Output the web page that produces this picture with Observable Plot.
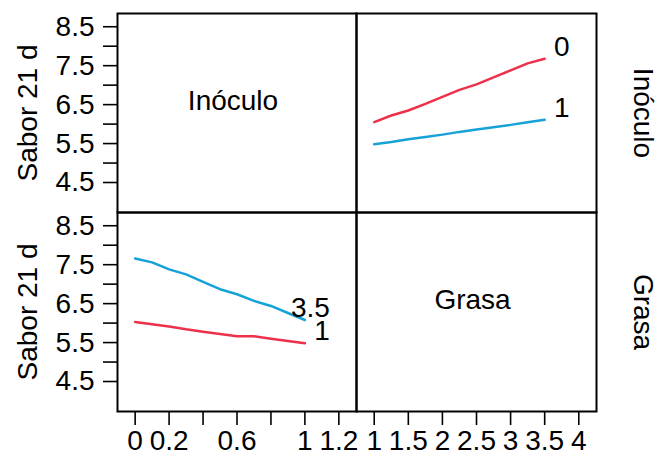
<!DOCTYPE html>
<html>
<head>
<meta charset="utf-8">
<script src="https://cdn.jsdelivr.net/npm/d3@7"></script>
<script src="https://cdn.jsdelivr.net/npm/@observablehq/plot@0.6"></script>
<style>
  html, body { margin: 0; padding: 0; background: #ffffff; }
  #chart { position: relative; width: 659px; height: 459px; }
  #chart svg { position: absolute; left: 0; top: 0; }
</style>
</head>
<body>
<div id="chart"></div>
<script>
// ---- data ----
const factorNames = ["Inóculo", "Grasa"];
const yTitle = "Sabor 21 d";

const grasaLevels   = [1, 1.25, 1.5, 1.75, 2, 2.25, 2.5, 2.75, 3, 3.25, 3.5];
const inoculoLevels = [0, 0.1, 0.2, 0.3, 0.4, 0.5, 0.6, 0.7, 0.8, 0.9, 1];

// top-right panel: x = Grasa, traces = Inóculo (0, 1)
const inoculoTraces = ["0", "1"];
const saborInoculo0 = [6.05, 6.22, 6.35, 6.52, 6.70, 6.88, 7.02, 7.20, 7.38, 7.56, 7.68];
const saborInoculo1 = [5.48, 5.54, 5.61, 5.67, 5.73, 5.80, 5.86, 5.92, 5.98, 6.05, 6.11];

// bottom-left panel: x = Inóculo, traces = Grasa (1, 3.5)
const grasaTraces = ["1", "3.5"];
const saborGrasa1   = [6.03, 5.97, 5.91, 5.84, 5.78, 5.72, 5.66, 5.66, 5.60, 5.54, 5.48];
const saborGrasa3_5 = [7.66, 7.56, 7.38, 7.25, 7.06, 6.87, 6.74, 6.57, 6.44, 6.26, 6.08];

const yTicks       = [4.5, 5, 5.5, 6, 6.5, 7, 7.5, 8, 8.5];
const yTickLabels  = [4.5, 5.5, 6.5, 7.5, 8.5];
const xTicksLeft   = [0, 0.2, 0.4, 0.6, 0.8, 1, 1.2];
const xLabelsLeft  = [0, 0.2, 0.6, 1, 1.2];
const xTicksRight  = [1, 1.5, 2, 2.5, 3, 3.5, 4];
const xLabelsRight = [1, 1.5, 2, 2.5, 3, 3.5, 4];

const traceColors = ["#EE314A", "#16A2D7"];

// ---- tables built from the arrays ----
const rows = ["top", "bottom"];
const topRight = [
  ...grasaLevels.map((g, i) => ({x: g, y: saborInoculo0[i], trace: inoculoTraces[0], row: "top"})),
  ...grasaLevels.map((g, i) => ({x: g, y: saborInoculo1[i], trace: inoculoTraces[1], row: "top"}))
];
const bottomLeft = [
  ...inoculoLevels.map((v, i) => ({x: v, y: saborGrasa1[i], trace: grasaTraces[0], row: "bottom"})),
  ...inoculoLevels.map((v, i) => ({x: v, y: saborGrasa3_5[i], trace: grasaTraces[1], row: "bottom"}))
];
const lastOf = (data) => d3.groups(data, d => d.trace).map(([, v]) => v[v.length - 1]);

const W = 659, H = 459;
const font = "Liberation Sans, Arial, Helvetica, sans-serif";
const fs = "28px";
const common = {
  width: W, height: H,
  marginTop: 12.7, marginBottom: 47,
  y: {domain: [3.73, 8.84], axis: null},
  fy: {domain: rows, padding: 0, axis: null},
  style: {fontFamily: font, fontSize: fs, color: "black", background: "transparent", overflow: "visible"}
};
const fmt = (labels) => (d) => labels.includes(d) ? String(d) : "";

const leftPlot = Plot.plot({
  ...common,
  marginLeft: 117, marginRight: W - 356,
  x: {domain: [-0.104, 1.304], axis: null},
  color: {domain: grasaTraces, range: traceColors},
  marks: [
    Plot.axisY({ticks: yTicks, tickFormat: fmt(yTickLabels), tickSize: 14, tickPadding: 9, strokeWidth: 1.6, label: null}),
    Plot.axisX({ticks: xTicksLeft, tickFormat: fmt(xLabelsLeft), tickSize: 14, tickPadding: 5, strokeWidth: 1.6, label: null}),
    Plot.text(rows.map(r => ({row: r})), {fy: "row", text: () => yTitle, frameAnchor: "left", textAnchor: "middle", lineAnchor: "middle", rotate: -90, dx: -89}),
    Plot.text([{row: "top", label: factorNames[0]}], {fy: "row", text: "label", frameAnchor: "middle", dx: -4, dy: -12}),
    Plot.line(bottomLeft, {x: "x", y: "y", z: "trace", stroke: "trace", fy: "row", strokeWidth: 2.5}),
    Plot.text(lastOf(bottomLeft), {x: "x", y: "y", fy: "row", text: "trace", textAnchor: "end", dx: 25, dy: -12}),
    Plot.frame({stroke: "black", strokeWidth: 2})
  ]
});

const rightPlot = Plot.plot({
  ...common,
  marginLeft: 356, marginRight: W - 596,
  x: {domain: [0.74, 4.26], axis: null},
  color: {domain: inoculoTraces, range: traceColors},
  marks: [
    Plot.axisX({ticks: xTicksRight, tickFormat: fmt(xLabelsRight), tickSize: 14, tickPadding: 5, strokeWidth: 1.6, label: null}),
    Plot.text([{row: "bottom", label: factorNames[1]}], {fy: "row", text: "label", frameAnchor: "middle", dx: -4, dy: -12}),
    Plot.text(rows.map((r, i) => ({row: r, label: factorNames[i]})), {fy: "row", text: "label", frameAnchor: "right", textAnchor: "middle", lineAnchor: "middle", rotate: 90, dx: 46}),
    Plot.line(topRight, {x: "x", y: "y", z: "trace", stroke: "trace", fy: "row", strokeWidth: 2.5}),
    Plot.text(lastOf(topRight), {x: "x", y: "y", fy: "row", text: "trace", textAnchor: "end", dx: 25, dy: -12}),
    Plot.frame({stroke: "black", strokeWidth: 2})
  ]
});

const el = document.getElementById("chart");
el.appendChild(leftPlot);
el.appendChild(rightPlot);
</script>
</body>
</html>
